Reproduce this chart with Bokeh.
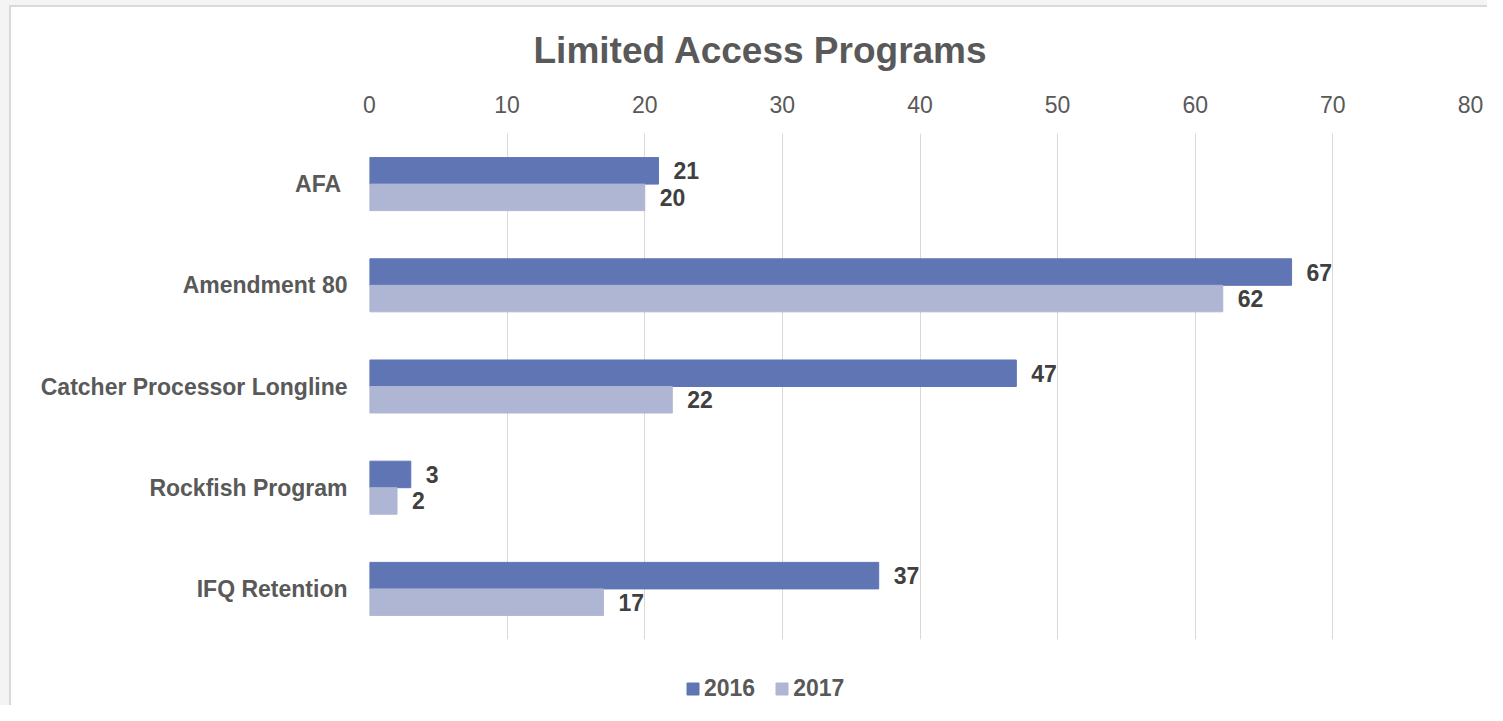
from bokeh.plotting import figure
from bokeh.layouts import column
from bokeh.models import (ColumnDataSource, FactorRange, LabelSet, Legend, LegendItem,
                          Title, Range1d)
from bokeh.core.properties import value
from bokeh.transform import dodge
from bokeh.embed import file_html
from bokeh.resources import INLINE

# ---- data ----
categories = ["AFA ", "Amendment 80", "Catcher Processor Longline", "Rockfish Program", "IFQ Retention"]
values_2016 = [21, 67, 47, 3, 37]
values_2017 = [20, 62, 22, 2, 17]
series_names = ["2016", "2017"]
x_ticks = [0, 10, 20, 30, 40, 50, 60, 70, 80]
title_text = "Limited Access Programs"

C2016 = "#5f75b4"
C2017 = "#aeb6d3"
FONT = "Liberation Sans"
TXT = "#595959"
W = 1487

src = ColumnDataSource(dict(
    cat=categories,
    v2016=values_2016,
    v2017=values_2017,
    l2016=[str(v) for v in values_2016],
    l2017=[str(v) for v in values_2017],
))

title = Title(text=title_text, align="left", offset=164, standoff=44,
              text_font=FONT, text_font_size="37px", text_font_style="bold",
              text_color=TXT)

p = figure(width=W, height=650,
           y_range=FactorRange(factors=categories[::-1]),
           x_range=Range1d(0, 80),
           x_axis_location="above",
           title=title,
           output_backend="svg", toolbar_location=None,
           min_border_left=369, min_border_right=17,
           min_border_top=133, min_border_bottom=11)
p.border_fill_color = None
p.background_fill_color = "#ffffff"

off = 0.131
hgt = 0.262
r1 = p.hbar(y=dodge("cat", off, range=p.y_range), left=0, right="v2016", height=hgt,
            source=src, fill_color=C2016, line_color=C2016)
r2 = p.hbar(y=dodge("cat", -off, range=p.y_range), left=0, right="v2017", height=hgt,
            source=src, fill_color=C2017, line_color=C2017)

for col, lab, o in (("v2016", "l2016", off), ("v2017", "l2017", -off)):
    ls = LabelSet(x=col, y=dodge("cat", o, range=p.y_range), text=lab, source=src,
                  x_offset=15, text_align="left", text_baseline="middle",
                  text_font=value(FONT), text_font_size=value("23px"),
                  text_font_style="bold", text_color="#404040")
    p.add_layout(ls)

# axes
p.xaxis.ticker = x_ticks
p.xaxis.axis_line_color = None
p.xaxis.major_tick_line_color = None
p.xaxis.minor_tick_line_color = None
p.xaxis.major_tick_out = 0
p.xaxis.major_tick_in = 0
p.xaxis.major_label_text_font = FONT
p.xaxis.major_label_text_font_size = "23px"
p.xaxis.major_label_text_color = TXT
p.xaxis.major_label_standoff = 21

p.yaxis.axis_line_color = None
p.yaxis.major_tick_line_color = None
p.yaxis.minor_tick_line_color = None
p.yaxis.major_tick_out = 0
p.yaxis.major_tick_in = 0
p.yaxis.major_label_text_font = FONT
p.yaxis.major_label_text_font_size = "23px"
p.yaxis.major_label_text_font_style = "bold"
p.yaxis.major_label_text_color = TXT
p.yaxis.major_label_standoff = 22

p.xgrid.grid_line_color = "#d9d9d9"
p.ygrid.grid_line_color = None
p.outline_line_color = None

# ---- legend strip below the chart (hidden series, only legend swatches show) ----
pl = figure(width=W, height=55, x_range=Range1d(0, 80),
            y_range=FactorRange(factors=categories[::-1]),
            x_axis_type=None, y_axis_type=None,
            output_backend="svg", toolbar_location=None,
            min_border_left=0, min_border_right=0, min_border_top=0, min_border_bottom=0)
pl.grid.visible = False
pl.outline_line_color = None
pl.border_fill_color = None
pl.background_fill_color = None
lr1 = pl.hbar(y="cat", left=0, right="v2016", height=hgt, source=src,
              fill_color=C2016, line_color=C2016, visible=False)
lr2 = pl.hbar(y="cat", left=0, right="v2017", height=hgt, source=src,
              fill_color=C2017, line_color=C2017, visible=False)

legend = Legend(items=[LegendItem(label=series_names[0], renderers=[lr1]),
                       LegendItem(label=series_names[1], renderers=[lr2])],
                location=(316, 3), orientation="horizontal",
                glyph_width=15, glyph_height=15, label_height=15,
                label_standoff=4, spacing=19, padding=0, margin=0,
                border_line_color=None, background_fill_alpha=0,
                inactive_fill_alpha=0,
                label_text_font=FONT, label_text_font_size="23px",
                label_text_font_style="bold", label_text_color=TXT)
pl.add_layout(legend)

layout = column(p, pl, spacing=0)
layout.styles = {
    "background": ("linear-gradient(#ffffff,#ffffff) 11px 7px / 100% 100% no-repeat, "
                   "linear-gradient(#d9d9d9,#d9d9d9) 9px 5px / 100% 100% no-repeat, #f4f4f4"),
}
open("out.html", "w").write(file_html(layout, INLINE))
